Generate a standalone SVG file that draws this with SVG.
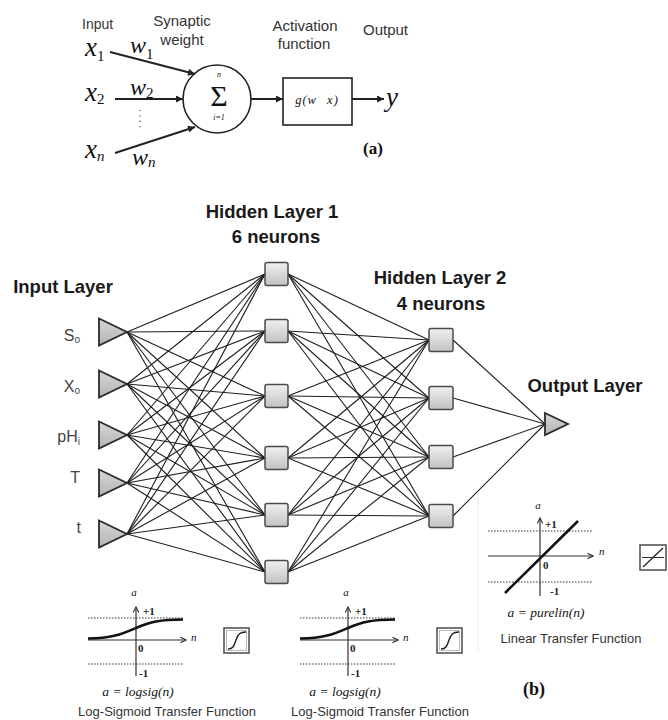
<svg xmlns="http://www.w3.org/2000/svg" width="668" height="720" viewBox="0 0 668 720">
<defs>
<style>
.lbl{font-family:"Liberation Sans",Arial,sans-serif;fill:#333;}
.hdr{font-family:"Liberation Sans",Arial,sans-serif;font-weight:bold;font-size:18.5px;fill:#1a1a1a;text-anchor:middle;}
.inl{font-family:"Liberation Sans",Arial,sans-serif;font-size:16px;fill:#444;text-anchor:end;}
.math{font-family:"Liberation Serif","Times New Roman",serif;font-style:italic;fill:#111;}
.num{font-family:"Liberation Serif","Times New Roman",serif;font-weight:bold;font-size:11px;fill:#222;}
.cap{font-family:"Liberation Sans",Arial,sans-serif;font-size:13px;fill:#333;text-anchor:middle;}
.conn line{stroke:#1e1e1e;stroke-width:1.1;}
.tri{fill:url(#gtri);stroke:#2a2a2a;stroke-width:1.8;stroke-linejoin:miter;}
.sq{fill:url(#gsq);stroke:#4a4a4a;stroke-width:1.5;}
.dot{stroke:#333;stroke-width:1;stroke-dasharray:1.5 1.5;fill:none;}
.axis{stroke:#333;stroke-width:1.2;fill:none;}
.arr{stroke:#222;stroke-width:2;fill:none;}
</style>
<linearGradient id="gtri" x1="0" y1="0" x2="0" y2="1"><stop offset="0" stop-color="#d6d6d6"/><stop offset="1" stop-color="#b4b4b4"/></linearGradient>
<linearGradient id="gsq" x1="0" y1="0" x2="0" y2="1"><stop offset="0" stop-color="#f0f0f0"/><stop offset="1" stop-color="#c2c2c2"/></linearGradient>
<marker id="ah" viewBox="0 0 10 10" refX="10" refY="5" markerWidth="8" markerHeight="7" markerUnits="userSpaceOnUse" orient="auto"><path d="M0 0L10 5L0 10z" fill="#222"/></marker>
<marker id="ax" viewBox="0 0 10 10" refX="9" refY="5" markerWidth="7" markerHeight="7" markerUnits="userSpaceOnUse" orient="auto"><path d="M1 1L9 5L1 9" fill="none" stroke="#333" stroke-width="1.6"/></marker>
</defs>
<rect width="668" height="720" fill="#fff"/>

<!-- ===== Part (a) ===== -->
<g id="a-labels">
<text class="lbl" x="82" y="29" font-size="14">Input</text>
<text class="lbl" x="182" y="26" font-size="15" text-anchor="middle">Synaptic</text>
<text class="lbl" x="182" y="45" font-size="15" text-anchor="middle">weight</text>
<text class="lbl" x="305" y="31" font-size="15" text-anchor="middle">Activation</text>
<text class="lbl" x="304" y="49" font-size="15" text-anchor="middle">function</text>
<text class="lbl" x="363" y="35" font-size="15">Output</text>
</g>
<g id="a-x1"><text class="math" x="85" y="56" font-size="27">x<tspan font-size="15" font-style="normal" dy="5">1</tspan></text></g>
<g id="a-x2"><text class="math" x="85" y="101" font-size="27">x<tspan font-size="15" font-style="normal" dy="3">2</tspan></text></g>
<g id="a-xn"><text class="math" x="85" y="158" font-size="27">x<tspan font-size="15" dy="3">n</tspan></text></g>
<g id="a-weights">
<text class="math" x="130" y="53" font-size="24">w<tspan font-size="15" font-style="normal" dy="6">1</tspan></text>
<text class="math" x="130" y="95" font-size="24">w<tspan font-size="15" font-style="normal" dy="3">2</tspan></text>
<text class="math" x="132" y="165" font-size="24">w<tspan font-size="15" dy="2">n</tspan></text>
</g>
<g id="a-sum">
<circle cx="217" cy="99" r="34" fill="#fff" stroke="#222" stroke-width="1.6"/>
<text x="219" y="106" font-family="Liberation Serif,serif" font-size="30" text-anchor="middle" fill="#111">Σ</text>
<text class="math" x="219" y="77" font-size="8" text-anchor="middle">n</text>
<text class="math" x="219" y="120" font-size="8" text-anchor="middle">i=1</text>
</g>
<g id="a-act">
<rect x="283" y="78" width="69" height="47" fill="#fff" stroke="#222" stroke-width="1.6"/>
<text class="math" x="317" y="104" font-size="12.5" text-anchor="middle" letter-spacing="1" word-spacing="6" xml:space="preserve">g(w x)</text>
</g>
<g id="a-out"><text class="math" x="386" y="106" font-size="27">y</text></g>
<g id="a-conn">
<line class="arr" x1="110" y1="52" x2="195" y2="74" marker-end="url(#ah)"/>
<line class="arr" x1="115" y1="99" x2="183" y2="99" marker-end="url(#ah)"/>
<line class="arr" x1="115" y1="153" x2="195" y2="127" marker-end="url(#ah)"/>
<line class="arr" x1="251" y1="99" x2="283" y2="99" marker-end="url(#ah)"/>
<line class="arr" x1="352" y1="99" x2="384" y2="99" marker-end="url(#ah)"/>
<line x1="140" y1="110" x2="140" y2="130" stroke="#666" stroke-width="1.3" stroke-dasharray="1.3 4"/>
</g>
<text x="363" y="154" font-family="Liberation Serif,serif" font-weight="bold" font-size="17" fill="#111">(a)</text>

<!-- ===== Part (b) ===== -->
<g id="b-headers">
<text class="hdr" x="272" y="218">Hidden Layer 1</text>
<text class="hdr" x="276" y="243">6 neurons</text>
<text class="hdr" x="63" y="293">Input Layer</text>
<text class="hdr" x="440" y="284">Hidden Layer 2</text>
<text class="hdr" x="441" y="310">4 neurons</text>
<text class="hdr" x="585" y="392">Output Layer</text>
</g>

<g id="connectors" class="conn">
<line x1="127" y1="332" x2="265" y2="274"/><line x1="127" y1="332" x2="265" y2="331"/><line x1="127" y1="332" x2="265" y2="396"/><line x1="127" y1="332" x2="265" y2="458"/><line x1="127" y1="332" x2="265" y2="515"/><line x1="127" y1="332" x2="265" y2="572"/>
<line x1="127" y1="384" x2="265" y2="274"/><line x1="127" y1="384" x2="265" y2="331"/><line x1="127" y1="384" x2="265" y2="396"/><line x1="127" y1="384" x2="265" y2="458"/><line x1="127" y1="384" x2="265" y2="515"/><line x1="127" y1="384" x2="265" y2="572"/>
<line x1="127" y1="435" x2="265" y2="274"/><line x1="127" y1="435" x2="265" y2="331"/><line x1="127" y1="435" x2="265" y2="396"/><line x1="127" y1="435" x2="265" y2="458"/><line x1="127" y1="435" x2="265" y2="515"/><line x1="127" y1="435" x2="265" y2="572"/>
<line x1="127" y1="483" x2="265" y2="274"/><line x1="127" y1="483" x2="265" y2="331"/><line x1="127" y1="483" x2="265" y2="396"/><line x1="127" y1="483" x2="265" y2="458"/><line x1="127" y1="483" x2="265" y2="515"/><line x1="127" y1="483" x2="265" y2="572"/>
<line x1="127" y1="534" x2="265" y2="274"/><line x1="127" y1="534" x2="265" y2="331"/><line x1="127" y1="534" x2="265" y2="396"/><line x1="127" y1="534" x2="265" y2="458"/><line x1="127" y1="534" x2="265" y2="515"/><line x1="127" y1="534" x2="265" y2="572"/>

<line x1="288" y1="274" x2="429" y2="340"/><line x1="288" y1="274" x2="429" y2="398"/><line x1="288" y1="274" x2="429" y2="457"/><line x1="288" y1="274" x2="429" y2="516"/>
<line x1="288" y1="331" x2="429" y2="340"/><line x1="288" y1="331" x2="429" y2="398"/><line x1="288" y1="331" x2="429" y2="457"/><line x1="288" y1="331" x2="429" y2="516"/>
<line x1="288" y1="396" x2="429" y2="340"/><line x1="288" y1="396" x2="429" y2="398"/><line x1="288" y1="396" x2="429" y2="457"/><line x1="288" y1="396" x2="429" y2="516"/>
<line x1="288" y1="458" x2="429" y2="340"/><line x1="288" y1="458" x2="429" y2="398"/><line x1="288" y1="458" x2="429" y2="457"/><line x1="288" y1="458" x2="429" y2="516"/>
<line x1="288" y1="515" x2="429" y2="340"/><line x1="288" y1="515" x2="429" y2="398"/><line x1="288" y1="515" x2="429" y2="457"/><line x1="288" y1="515" x2="429" y2="516"/>
<line x1="288" y1="572" x2="429" y2="340"/><line x1="288" y1="572" x2="429" y2="398"/><line x1="288" y1="572" x2="429" y2="457"/><line x1="288" y1="572" x2="429" y2="516"/>

<line x1="453" y1="340" x2="545" y2="424"/><line x1="453" y1="398" x2="545" y2="424"/><line x1="453" y1="457" x2="545" y2="424"/><line x1="453" y1="516" x2="545" y2="424"/>
</g>

<g id="in-So"><path class="tri" d="M99 318.5L127 332L99 345.5Z"/><text class="inl" x="80" y="341">S<tspan font-size="10" dy="2">o</tspan></text></g>
<g id="in-Xo"><path class="tri" d="M99 370.5L127 384L99 397.5Z"/><text class="inl" x="80" y="392">X<tspan font-size="10" dy="2">o</tspan></text></g>
<g id="in-pHi"><path class="tri" d="M99 421.5L127 435L99 448.5Z"/><text class="inl" x="80" y="442">pH<tspan font-size="10" dy="3">i</tspan></text></g>
<g id="in-T"><path class="tri" d="M99 469.5L127 483L99 496.5Z"/><text class="inl" x="80" y="483">T</text></g>
<g id="in-t"><path class="tri" d="M99 520.5L127 534L99 547.5Z"/><text class="inl" x="81" y="533">t</text></g>

<g id="h1-1"><rect class="sq" x="265" y="262.5" width="23" height="23" rx="2"/></g>
<g id="h1-2"><rect class="sq" x="265" y="319.5" width="23" height="23" rx="2"/></g>
<g id="h1-3"><rect class="sq" x="265" y="384.5" width="23" height="23" rx="2"/></g>
<g id="h1-4"><rect class="sq" x="265" y="446.5" width="23" height="23" rx="2"/></g>
<g id="h1-5"><rect class="sq" x="265" y="503.5" width="23" height="23" rx="2"/></g>
<g id="h1-6"><rect class="sq" x="265" y="560.5" width="23" height="23" rx="2"/></g>

<g id="h2-1"><rect class="sq" x="429" y="328.5" width="24" height="23" rx="2"/></g>
<g id="h2-2"><rect class="sq" x="429" y="386.5" width="24" height="23" rx="2"/></g>
<g id="h2-3"><rect class="sq" x="429" y="445.5" width="24" height="23" rx="2"/></g>
<g id="h2-4"><rect class="sq" x="429" y="504.5" width="24" height="23" rx="2"/></g>

<g id="out"><path class="tri" d="M545 413L568 424L545 435Z"/></g>

<!-- faint panel edge -->
<line x1="478" y1="493" x2="478" y2="652" stroke="#eeeeee" stroke-width="1"/>

<!-- Log-sigmoid graph 1 -->
<g id="graph-logsig-1">
<text class="math" x="134" y="596" font-size="11" text-anchor="middle">a</text>
<line class="axis" x1="136" y1="676" x2="136" y2="607" marker-end="url(#ax)"/>
<line class="axis" x1="88" y1="640" x2="186" y2="640" marker-end="url(#ax)"/>
<line class="dot" x1="88" y1="618" x2="183" y2="618"/>
<line class="dot" x1="88" y1="664" x2="183" y2="664"/>
<path d="M88 638.5C112 638.5 122 634 136 628C150 622 160 619.5 183 619.5" fill="none" stroke="#111" stroke-width="2.6"/>
<text class="num" x="143" y="615">+1</text>
<text class="num" x="138" y="652">0</text>
<text class="num" x="139" y="677">-1</text>
<text class="math" x="191" y="641" font-size="11">n</text>
<text class="math" x="138" y="696" font-size="13.5" text-anchor="middle">a = logsig(n)</text>
<text class="cap" x="167" y="716">Log-Sigmoid Transfer Function</text>
</g>
<g id="icon-logsig-1">
<rect x="224" y="628" width="25" height="25" fill="#fff" stroke="#555" stroke-width="1.6"/>
<rect x="226.5" y="630.5" width="20" height="20" fill="none" stroke="#aaa" stroke-width="0.8"/>
<path d="M228 649C233 649 234 646 236 640C238 634 240 632 246 632" fill="none" stroke="#222" stroke-width="1.4"/>
</g>

<!-- Log-sigmoid graph 2 -->
<g id="graph-logsig-2" transform="translate(212,0)">
<text class="math" x="134" y="596" font-size="11" text-anchor="middle">a</text>
<line class="axis" x1="136" y1="676" x2="136" y2="607" marker-end="url(#ax)"/>
<line class="axis" x1="88" y1="640" x2="186" y2="640" marker-end="url(#ax)"/>
<line class="dot" x1="88" y1="618" x2="183" y2="618"/>
<line class="dot" x1="88" y1="664" x2="183" y2="664"/>
<path d="M88 638.5C112 638.5 122 634 136 628C150 622 160 619.5 183 619.5" fill="none" stroke="#111" stroke-width="2.6"/>
<text class="num" x="143" y="615">+1</text>
<text class="num" x="138" y="652">0</text>
<text class="num" x="139" y="677">-1</text>
<text class="math" x="191" y="641" font-size="11">n</text>
<text class="math" x="133" y="696" font-size="13.5" text-anchor="middle">a = logsig(n)</text>
<text class="cap" x="168" y="716">Log-Sigmoid Transfer Function</text>
</g>
<g id="icon-logsig-2">
<rect x="437" y="628" width="25" height="25" fill="#fff" stroke="#555" stroke-width="1.6"/>
<rect x="439.5" y="630.5" width="20" height="20" fill="none" stroke="#aaa" stroke-width="0.8"/>
<path d="M441 649C446 649 447 646 449 640C451 634 453 632 459 632" fill="none" stroke="#222" stroke-width="1.4"/>
</g>

<!-- Linear graph -->
<g id="graph-linear">
<text class="math" x="538" y="509" font-size="11" text-anchor="middle">a</text>
<line class="axis" x1="540" y1="596" x2="540" y2="518" marker-end="url(#ax)"/>
<line class="axis" x1="488" y1="556" x2="593" y2="556" marker-end="url(#ax)"/>
<line class="dot" x1="488" y1="531" x2="593" y2="531"/>
<line class="dot" x1="488" y1="582" x2="593" y2="582"/>
<line x1="505" y1="593" x2="578" y2="521" stroke="#111" stroke-width="2.6"/>
<text class="num" x="545" y="528">+1</text>
<text class="num" x="543" y="569">0</text>
<text class="num" x="550" y="595">-1</text>
<text class="math" x="599" y="555" font-size="11">n</text>
<text class="math" x="546" y="617" font-size="13.5" text-anchor="middle">a = purelin(n)</text>
<text class="cap" x="571" y="643" font-size="14">Linear Transfer Function</text>
</g>
<g id="icon-linear">
<rect x="640" y="545" width="26" height="25" fill="#fff" stroke="#555" stroke-width="1.6"/>
<line x1="642" y1="557.5" x2="664" y2="557.5" stroke="#333" stroke-width="1"/>
<line x1="643" y1="567" x2="663" y2="548" stroke="#222" stroke-width="1.3"/>
</g>

<text x="523" y="695" font-family="Liberation Serif,serif" font-weight="bold" font-size="18" fill="#111">(b)</text>
</svg>
